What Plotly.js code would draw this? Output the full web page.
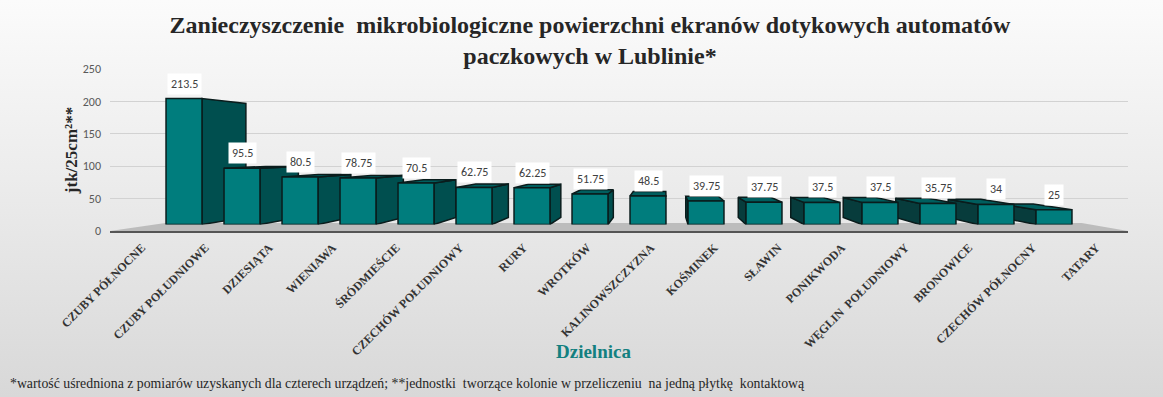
<!DOCTYPE html>
<html>
<head>
<meta charset="utf-8">
<script src="https://cdn.plot.ly/plotly-3.0.1.min.js"></script>
<style>
  html, body { margin: 0; padding: 0; }
  #chart { width: 1163px; height: 397px; background: linear-gradient(to bottom, #fbfbfb 0%, #ececec 45%, #d8d8d8 100%); }
</style>
</head>
<body>
<div id="chart"></div>
<script>
const categories = ["CZUBY PÓŁNOCNE", "CZUBY POŁUDNIOWE", "DZIESIĄTA", "WIENIAWA", "ŚRÓDMIEŚCIE",
  "CZECHÓW POŁUDNIOWY", "RURY", "WROTKÓW", "KALINOWSZCZYZNA", "KOŚMINEK", "SŁAWIN", "PONIKWODA",
  "WĘGLIN  POŁUDNIOWY", "BRONOWICE", "CZECHÓW PÓŁNOCNY", "TATARY"];
const values = [213.5, 95.5, 80.5, 78.75, 70.5, 62.75, 62.25, 51.75, 48.5, 39.75, 37.75, 37.5, 37.5, 35.75, 34, 25];
const yTicks = [0, 50, 100, 150, 200, 250];

const W = 1163, H = 397;
const px = v => v / W, py = v => 1 - v / H;

const idx = categories.map((_, i) => i);
const barW = 0.62;
// perspective vanishing point (in bar-axis units) and depth factor
const VX = 8.28, VY = 126, K = 0.095;
const proj = (x, y) => [x + K * (VX - x), y + K * (VY - y)];

const FRONT = '#007d7d', RSIDE = '#004f4f', LSIDE = '#073c3c', TOP = '#005e5e', EDGE = '#0a1c1c';

const traces = [];
// floor (decoration) on the label axes
traces.push({
  type: 'scatter', mode: 'lines', xaxis: 'x', yaxis: 'y',
  x: [-0.5, 15.5, 15.5 - 0.1 * (15.5 - 8.2), -0.5 + 0.1 * (8.2 + 0.5), -0.5],
  y: [0, 0, 12.5, 12.5, 0],
  fill: 'toself', fillcolor: '#bcbcbc', line: { width: 0 }, hoverinfo: 'skip', showlegend: false
});
// side and top faces, painter order: far from vanishing point first
const order = idx.slice().sort((p, q) => Math.abs(q - VX) - Math.abs(p - VX));
order.forEach(i => {
  const v = values[i], L = i - barW / 2, R = i + barW / 2;
  const faces = [];
  if (R < VX) {
    const t = proj(R, v), b = proj(R, 0);
    faces.push({ x: [R, R, t[0], b[0], R], y: [0, v, t[1], b[1], 0], c: RSIDE });
  }
  if (L > VX) {
    const t = proj(L, v), b = proj(L, 0);
    faces.push({ x: [L, L, t[0], b[0], L], y: [0, v, t[1], b[1], 0], c: LSIDE });
  }
  if (v < VY) {
    const tl = proj(L, v), tr = proj(R, v);
    faces.push({ x: [L, R, tr[0], tl[0], L], y: [v, v, tr[1], tl[1], v], c: TOP });
  }
  faces.forEach(f => traces.push({
    type: 'scatter', mode: 'lines', xaxis: 'x2', yaxis: 'y2', x: f.x, y: f.y,
    fill: 'toself', fillcolor: f.c, line: { color: EDGE, width: 1.5 }, hoverinfo: 'skip', showlegend: false
  }));
});
// front faces
traces.push({
  type: 'bar', x: idx, y: values, xaxis: 'x3', yaxis: 'y3', width: barW,
  marker: { color: FRONT, line: { color: EDGE, width: 1.5 } },
  hovertext: categories, showlegend: false
});

const serif = 'Liberation Serif, Times New Roman, serif';
const annotations = values.map((v, i) => ({
  x: i, y: v, xref: 'x3', yref: 'y3', text: String(v), showarrow: false,
  yanchor: 'bottom', yshift: 4, bgcolor: '#ffffff', borderpad: 3,
  font: { family: 'Carlito, Lato, Open Sans, sans-serif', size: 12, color: '#404040' }
}));
annotations.push({
  x: px(593), y: py(351), xref: 'paper', yref: 'paper', showarrow: false,
  xanchor: 'center', yanchor: 'middle',
  text: '<b>Dzielnica</b>', font: { family: serif, size: 19, color: '#138080' }
});
annotations.push({
  x: px(8), y: py(383), xref: 'paper', yref: 'paper', showarrow: false, xanchor: 'left', yanchor: 'middle',
  text: '*wartość uśredniona z pomiarów uzyskanych dla czterech urządzeń; **jednostki\u00a0 tworzące kolonie w przeliczeniu\u00a0 na jedną płytkę\u00a0 kontaktową',
  font: { family: serif, size: 13.8, color: '#262626' }
});

const layout = {
  width: W, height: H,
  margin: { l: 0, r: 0, t: 0, b: 0 },
  paper_bgcolor: 'rgba(0,0,0,0)', plot_bgcolor: 'rgba(0,0,0,0)',
  showlegend: false,
  title: {
    text: '<b>Zanieczyszczenie\u00a0 mikrobiologiczne powierzchni ekranów dotykowych automatów<br>paczkowych w Lublinie*</b>',
    x: px(590), xanchor: 'center', xref: 'paper', y: py(33), yref: 'paper', yanchor: 'top',
    font: { family: serif, size: 24, color: '#262626' }
  },
  xaxis: {
    domain: [px(110), px(1128)], range: [-0.5, 15.5], anchor: 'y',
    tickmode: 'array', tickvals: idx, ticktext: categories, tickangle: -45,
    tickfont: { family: serif, size: 12, color: '#333333', weight: 'bold' },
    showline: true, linecolor: '#555555', linewidth: 2, showgrid: false, zeroline: false,
    ticks: '', ticklabelstandoff: 3
  },
  yaxis: {
    domain: [py(231), py(69)], range: [0, 250], anchor: 'x',
    tickvals: yTicks, showgrid: true, gridcolor: '#d2d2d2', gridwidth: 1, zeroline: false, showline: false,
    tickfont: { family: 'Carlito, Lato, Open Sans, sans-serif', size: 12, color: '#595959' },
    ticks: '', ticklabelstandoff: 8,
    title: { text: '<b>jtk/25cm²**</b>', standoff: 0, font: { family: serif, size: 17, color: '#262626' } }
  },
  xaxis2: { domain: [px(155), px(1083)], range: [-0.5, 15.5], anchor: 'y2', visible: false },
  yaxis2: { domain: [py(224.5), py(77)], range: [0, 250], anchor: 'x2', visible: false },
  xaxis3: { overlaying: 'x2', range: [-0.5, 15.5], anchor: 'y3', visible: false },
  yaxis3: { overlaying: 'y2', range: [0, 250], anchor: 'x3', visible: false },
  annotations: annotations
};

Plotly.newPlot('chart', traces, layout, { displayModeBar: false, staticPlot: true });
</script>
</body>
</html>
